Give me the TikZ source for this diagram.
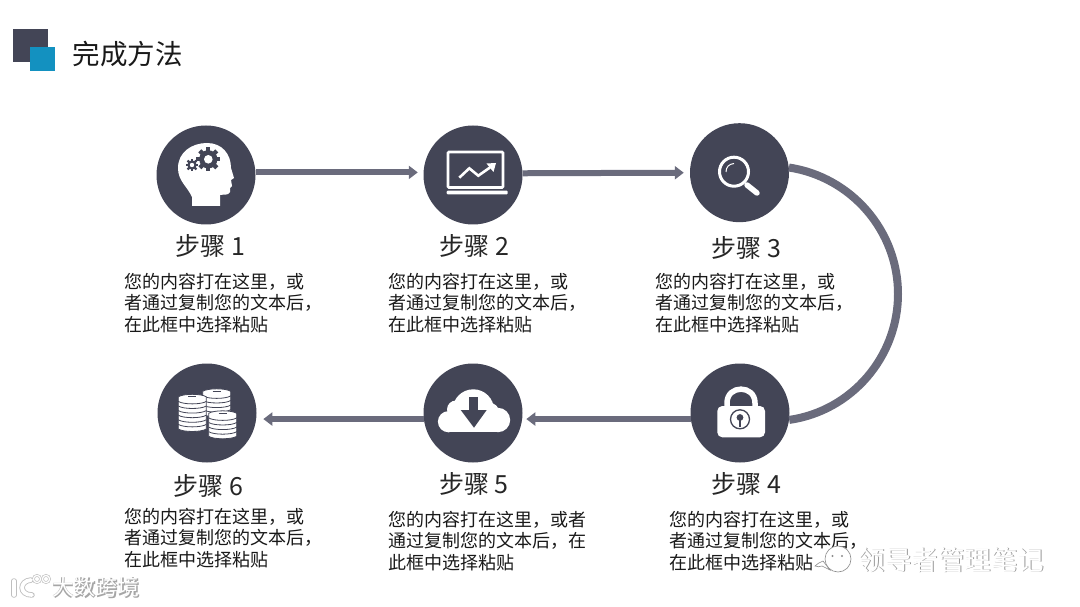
\documentclass[tikz,border=0pt]{standalone}
\usepackage{fontspec}
\usepackage{xcolor}
\usepackage{tikz}
\usetikzlibrary{arrows.meta}
\newfontfamily\cjk{Noto Sans CJK SC}
\definecolor{stepdark}{HTML}{434556}
\definecolor{linkgray}{HTML}{6A6B7C}
\definecolor{markblue}{HTML}{1391C0}
% gear: x, y, radius, hole radius
\newcommand{\gearicon}[4]{%
    \fill[stepdark] (#1,#2) circle (#3*0.76);
    \foreach \ang in {0,45,...,315}
        \draw[stepdark, line width=#3*0.36pt] (#1,#2) -- ++(\ang:#3);
    \fill[white] (#1,#2) circle (#4);
}
% stack of coins: x, bottom y, number of coins
\newcommand{\coinstack}[3]{%
    \foreach \i in {1,...,#3} {
        \pgfmathsetmacro{\yc}{#2-5-(\i-1)*4.6}
        \filldraw[fill=white, draw=stepdark, line width=0.8pt]
            (#1-14,\yc-2.3) -- (#1-14,\yc+2.3)
            .. controls (#1-9,\yc+5.6) and (#1+9,\yc+5.6) .. (#1+14,\yc+2.3)
            -- (#1+14,\yc-2.3)
            .. controls (#1+9,\yc-5.6) and (#1-9,\yc-5.6) .. cycle;
    }
    \draw[stepdark, line width=1pt] (#1-4,#2-5-#3*4.6+4.6-2.5) -- (#1+4,#2-5-#3*4.6+4.6-2.5);
}

\begin{document}
\begin{tikzpicture}[x=1pt, y=-1pt, >={Triangle[length=9pt,width=13pt]},
    stepdot/.style={circle, fill=stepdark, minimum size=99pt, inner sep=0pt},
    steptitle/.style={inner sep=0pt, text=black!85, font=\cjk\fontsize{25}{28}\selectfont},
    stepnote/.style={right, inner sep=0pt, align=left, text=black!90, font=\cjk\fontsize{18}{21.2}\selectfont},
    linkline/.style={linkgray, line width=6pt},
    wmarkback/.style={inner sep=0pt, text=black!40},
    wmarkfront/.style={inner sep=0pt, text=white}]
    \useasboundingbox (0,0) rectangle (1080,607);

    % --- title mark and title ---
    \fill[stepdark] (12.5,29) rectangle (48,62.5);
    \fill[markblue] (30,47) rectangle (55,71.5);
    \node[inner sep=0pt, text=black!90, font=\cjk\fontsize{27.5}{30}\selectfont] (pagetitle) at (127.8,54) {完成方法};

    % --- the six circles ---
    \node[stepdot] (stepa) at (206,175) {};
    \node[stepdot] (stepb) at (473,175) {};
    \node[stepdot] (stepc) at (739.5,172.7) {};
    \node[stepdot] (stepd) at (740,413) {};
    \node[stepdot] (stepe) at (473,413) {};
    \node[stepdot] (stepf) at (207,413) {};

    % --- connectors ---
    \draw[linkline, ->, shorten >=5.6pt] (stepa.3) -- (stepb.177);
    \draw[linkline, ->, shorten >=6pt] (stepb.2.7) -- (stepc.west);
    \draw[linkgray, line width=8pt] (stepc.6) .. controls (851.5,177) and (898,231) .. (898,294)
        .. controls (898,357) and (851.5,411) .. (stepd.-8);
    \draw[linkline, ->, shorten >=4pt] (stepd.187) -- (stepe.-7);
    \draw[linkline, ->, shorten >=7pt] (stepe.187) -- (stepf.-7);

    % --- icon 1: head with gears ---
    \fill[white] (192,206) -- (192,197) .. controls (187,186) and (178,181) .. (178,168)
        .. controls (178,152) and (192,143) .. (207,143)
        .. controls (222,143) and (231,154) .. (231,168)
        -- (234,178) -- (231,180) -- (232,186) -- (230,188) -- (230,192)
        .. controls (228,196) and (224,194) .. (220,195) -- (220,206) -- cycle;
    \gearicon{208.3}{159.3}{12}{4.3}
    \gearicon{192}{165}{6.2}{2.2}

    % --- icon 2: laptop with trend ---
    \draw[white, line width=2.6pt, rounded corners=1pt] (448,152) rectangle (503,187.5);
    \fill[white, rounded corners=1pt] (446.7,190.7) rectangle (507.7,194.3);
    \draw[white, line width=2.6pt] (459.3,177.7) -- (469.3,168.3) -- (478.3,175.7) -- (490,167.5);
    \fill[white] (496,163) -- (493.5,172) -- (486.5,163.5) -- cycle;

    % --- icon 3: magnifier ---
    \draw[white, line width=3pt] (734,171.7) circle (14.5);
    \draw[white, line width=5.5pt, line cap=round] (747,185) -- (757,193);
    \draw[white, line width=1pt] (726,172) .. controls (726,167) and (729,164) .. (734,163.5);

    % --- icon 4: padlock ---
    \draw[white, line width=5.5pt] (727,410) -- (727,403) .. controls (727,384.5) and (755,384.5) .. (755,403) -- (755,410);
    \fill[white, rounded corners=5pt] (717.3,406) rectangle (765,437.3);
    \draw[stepdark, line width=1.3pt] (740,419.3) circle (9.5);
    \fill[stepdark] (740,417.5) circle (3.4);
    \fill[stepdark] (738.6,418) rectangle (741.4,427);

    % --- icon 5: cloud with arrow ---
    \fill[white] (448.5,421.7) circle (10.6);
    \fill[white] (498,420) circle (12.2);
    \fill[white] (473.3,410) circle (20.7);
    \fill[white] (456,409.5) circle (9);
    \fill[white] (490,412) circle (9);
    \fill[white] (448.5,415) rectangle (498,432.3);
    \fill[stepdark] (469.3,396.7) rectangle (478.3,410);
    \fill[stepdark] (460.7,410) -- (486.7,410) -- (474,427.7) -- cycle;

    % --- icon 6: coins ---
    \coinstack{216.7}{417}{5}
    \coinstack{192.3}{431.7}{7}
    \coinstack{222.7}{439}{5}

    % --- step labels ---
    \node[steptitle] (labela) at (210.5,246) {步骤 1};
    \node[steptitle] (labelb) at (474.5,246) {步骤 2};
    \node[steptitle] (labelc) at (746.5,248) {步骤 3};
    \node[steptitle] (labeld) at (746.5,484) {步骤 4};
    \node[steptitle] (labele) at (474,484) {步骤 5};
    \node[steptitle] (labelf) at (208.5,486) {步骤 6};

    % --- notes ---
    \node[stepnote] (notea) at (124.5,303) {您的内容打在这里，或\\者通过复制您的文本后，\\在此框中选择粘贴};
    \node[stepnote] (noteb) at (388.5,303) {您的内容打在这里，或\\者通过复制您的文本后，\\在此框中选择粘贴};
    \node[stepnote] (notec) at (655.5,303) {您的内容打在这里，或\\者通过复制您的文本后，\\在此框中选择粘贴};
    \node[stepnote] (noted) at (669.5,541) {您的内容打在这里，或\\者通过复制您的文本后，\\在此框中选择粘贴};
    \node[stepnote] (notee) at (388.5,541) {您的内容打在这里，或者\\通过复制您的文本后，在\\此框中选择粘贴};
    \node[stepnote] (notef) at (124.5,538) {您的内容打在这里，或\\者通过复制您的文本后，\\在此框中选择粘贴};

    % --- watermarks ---
    \filldraw[fill=white, draw=black!45, line width=0.6pt] (815,566) .. controls (817,563) and (820,563) .. (823,561) -- (830,570) -- (822,566) .. controls (820,567) and (817,567) .. cycle;
    \filldraw[fill=white, draw=black!45, line width=0.6pt] (838,559) circle (13);
    \fill[black!45] (832.5,556) circle (1.1);
    \fill[black!45] (842,556) circle (1.1);
    \node[wmarkback, font=\cjk\fontsize{26.5}{28}\selectfont] (wmarkaback) at (952.3,560.6) {领导者管理笔记};
    \node[wmarkfront, font=\cjk\fontsize{26.5}{28}\selectfont] (wmarkafront) at (951.7,560) {领导者管理笔记};
    \draw[black!25, line width=5.5pt, line cap=round] (14,581) -- (14,595);
    \draw[black!25, line width=5.5pt, line cap=round] (31,580) .. controls (19,581) and (19,595) .. (32,595);
    \draw[black!25, line width=2.6pt] (37,579) circle (3.6);
    \draw[black!25, line width=2.6pt] (46,579) circle (3.6);
    \draw[white, line width=3.8pt, line cap=round] (14,581) -- (14,595);
    \draw[white, line width=3.8pt, line cap=round] (31,580) .. controls (19,581) and (19,595) .. (32,595);
    \draw[white, line width=1.3pt] (37,579) circle (3.6);
    \draw[white, line width=1.3pt] (46,579) circle (3.6);
    \node[wmarkback, font=\cjk\bfseries\fontsize{22}{24}\selectfont, text=black!35] (wmarkbback) at (96.5,588) {大数跨境};
    \node[wmarkfront, font=\cjk\fontsize{22}{24}\selectfont] (wmarkbfront) at (96,587.5) {大数跨境};
\end{tikzpicture}
\end{document}
